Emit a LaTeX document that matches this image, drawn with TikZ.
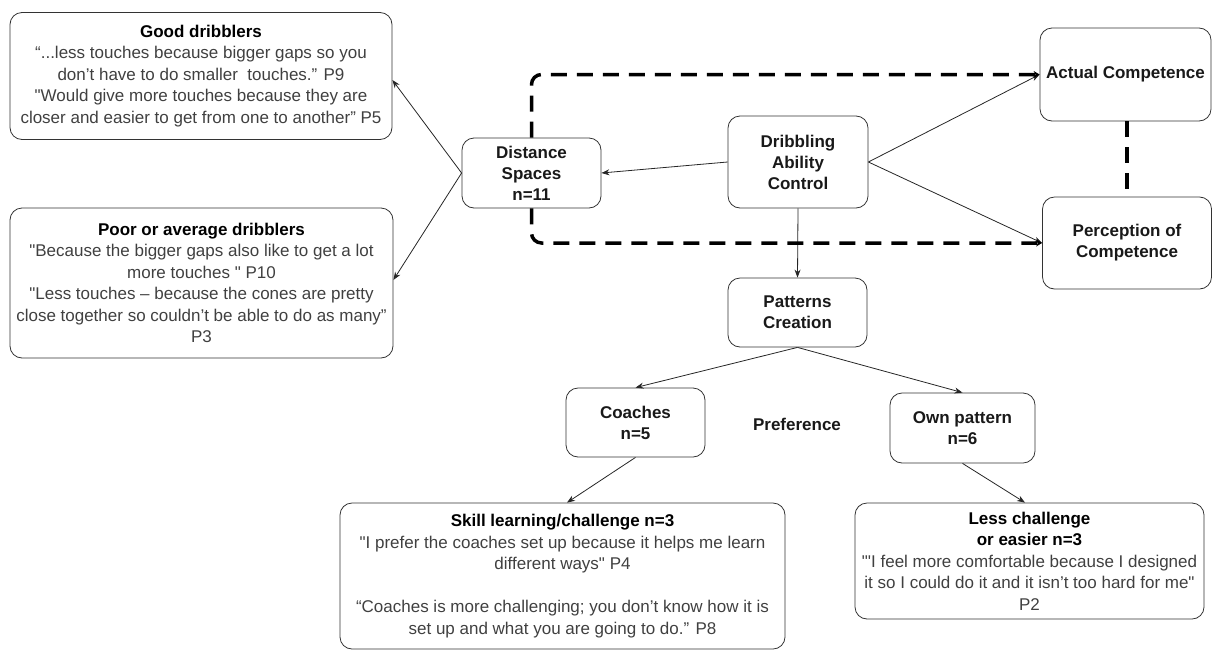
\documentclass[tikz,border=0pt]{standalone}
\usepackage{fontspec}
\setmainfont{Liberation Sans}
\newfontfamily\af{Liberation Sans}
\usetikzlibrary{arrows.meta}
\begin{document}
\begin{tikzpicture}[x=1pt,y=-1pt,
  box/.style={draw=black!80, line width=0.8pt, rounded corners=12pt, align=center, inner sep=0pt,
    font=\af\fontsize{17}{21.5}\selectfont, text=black!75},
  lbl/.style={draw=black!80, line width=0.8pt, rounded corners=12pt, align=center, inner sep=0pt,
    font=\af\fontsize{17}{21}\selectfont\bfseries, text=black!90},
  conn/.style={draw=black!85, line width=0.8pt, -{Stealth[length=8pt,width=6pt]}},
  dsh/.style={draw=black, line width=3.5pt, dash pattern=on 16pt off 10pt, rounded corners=10pt},
  dshtip/.style={dsh, -{Stealth[length=6pt,width=7pt]}},
]
\useasboundingbox (0,0) rectangle (1212,651);

\node[box, minimum width=382pt, minimum height=127pt] (good) at (201,76)
 {{\bfseries\color{black} Good dribblers}\\
  “...less touches because bigger gaps so you\\
  don’t have to do smaller\ \ touches.” P9\\
  "Would give more touches because they are\\
  closer and easier to get from one to another” P5};

\node[box, minimum width=383pt, minimum height=150pt] (poor) at (201.5,283)
 {{\bfseries\color{black} Poor or average dribblers}\\
  "Because the bigger gaps also like to get a lot\\
  more touches " P10\\
  "Less touches – because the cones are pretty\\
  close together so couldn’t be able to do as many”\\
  P3};

\node[lbl, minimum width=139pt, minimum height=70pt] (dist) at (531.5,173)
 {Distance\\Spaces\\n=11};
\node[lbl, minimum width=140pt, minimum height=92pt] (drib) at (798,162)
 {Dribbling\\Ability\\Control};
\node[lbl, minimum width=171pt, minimum height=93pt] (act) at (1125.5,74.5)
 {Actual Competence};
\node[lbl, minimum width=169pt, minimum height=92pt] (perc) at (1127,243)
 {Perception of\\Competence};
\node[lbl, minimum width=139pt, minimum height=69pt] (pat) at (797.5,312.5)
 {Patterns\\Creation};
\node[lbl, minimum width=139pt, minimum height=69pt] (coach) at (635.5,422.5)
 {Coaches\\n=5};
\node[font=\af\fontsize{17}{21}\selectfont\bfseries, text=black!90] (pref) at (797,424) {Preference};
\node[lbl, minimum width=145pt, minimum height=70pt] (own) at (962.5,428)
 {Own pattern\\n=6};

\node[box, minimum width=445pt, minimum height=146pt] (skill) at (562.5,576)
 {{\bfseries\color{black} Skill learning/challenge n=3}\\
  "I prefer the coaches set up because it helps me learn\\
  different ways" P4\\[21.5pt]
  “Coaches is more challenging; you don’t know how it is\\
  set up and what you are going to do.” P8};

\node[box, minimum width=349pt, minimum height=116pt] (less) at (1029.5,561)
 {{\bfseries\color{black} Less challenge}\\
  {\bfseries\color{black} or easier n=3}\\
  "'I feel more comfortable because I designed\\
  it so I could do it and it isn’t too hard for me"\\
  P2};

% solid connectors
\draw[conn] (dist.west) -- (good.east |- 0,80);
\draw[conn] (dist.west) -- (poor.east |- 0,280);
\draw[conn] (drib.west) -- (dist.east);
\draw[conn] (drib.east) -- (act.west);
\draw[conn] (drib.east) -- (perc.west);
\draw[conn] (drib.south) -- (pat.north);
\draw[conn] (pat.south) -- (coach.north);
\draw[conn] (pat.south) -- (own.north);
\draw[conn] (coach.south) -- (skill.north -| 567,0);
\draw[conn] (own.south) -- (less.north -| 1025,0);

% thick dashed connectors
\draw[dshtip] (dist.north) -- (dist.north |- act.west) -- (act.west);
\draw[dshtip] (dist.south) -- (dist.south |- perc.west) -- (perc.west);
\draw[dsh] (act.south -| 1127,0) -- (perc.north -| 1127,0);
\end{tikzpicture}
\end{document}
